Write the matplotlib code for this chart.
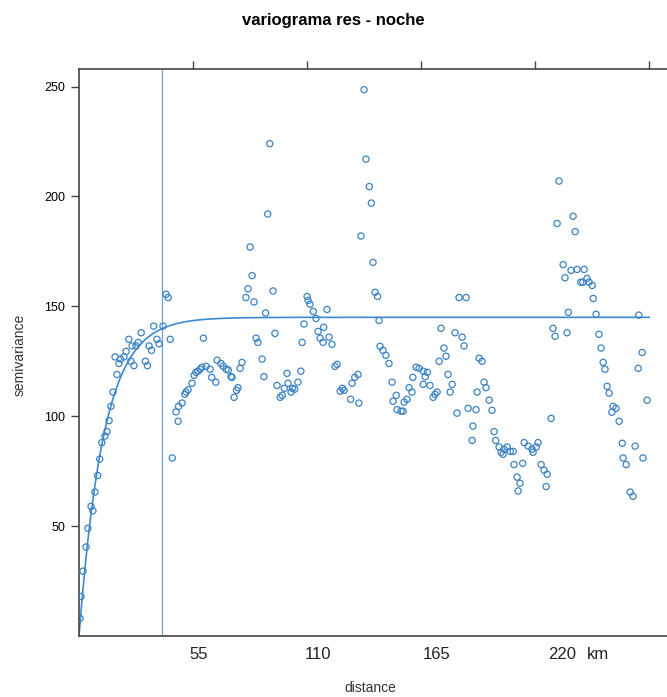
import numpy as np
import matplotlib
matplotlib.use('Agg')
import matplotlib.pyplot as plt

plt.rcParams['font.family'] = ['Liberation Sans', 'DejaVu Sans']

# semivariograma empirico (distancia en km, semivarianza)
dist = [0.5, 1, 1.9, 3.4, 4.3, 5.8, 6.7, 7.7, 9, 10, 11, 12.5, 13.5, 14.5, 15.4,
        16.4, 17.4, 18.3, 19.3, 20, 21.7, 22.7, 24, 25, 25.6, 26.5, 27.5, 28.5, 30,
        32, 33, 33.8, 35, 36, 37.6, 38.6, 40.5, 42, 43, 44, 45,
        46.8, 47.8, 48, 49.7, 51, 51.6, 52.6, 54.5, 55.5, 56.4, 57.4, 58.4, 59.3, 60,
        61.3, 63.2, 64, 66, 66.6, 68.5, 69.5, 71, 72, 73.3, 73.8, 74.8, 76, 76.7,
        77.7, 78.6, 80.5, 81.5, 82.5, 83.5, 84.4, 85.4, 86.3, 88.3, 89.2, 90, 91, 92,
        93.6, 94.5, 95.5, 97, 98, 99, 100.3, 100.8, 102.3, 103, 104, 105.6, 107,
        107.6, 108.5, 110, 110.5, 111.4, 113, 114.3, 115.3, 116.3, 117.7, 118, 119.6,
        120.6, 122, 123.5, 124.5, 126, 127, 127.8, 131, 131.7, 133, 134.6, 135, 136,
        137.5, 138.4, 140, 141, 141.8, 142.8, 144, 144.7, 145.2, 146.6, 148, 149.5,
        151, 151.5, 153, 153.4, 155.3, 156.3, 156.8, 158.2, 159.2, 160.6, 161, 162.6,
        164, 166, 166, 167, 168, 169.3, 170.8, 171.7, 172.7, 173.7, 174.6, 176, 177,
        178, 179, 180, 181.4, 182.3, 183.3, 184.8, 185.7, 186.7, 187.7, 189.6, 190,
        191.5, 192, 193, 194.4, 195.4, 196.3, 197.8, 199.2, 200.2, 201, 202.6, 203.6,
        204.5, 205, 206.5, 208, 209.4, 209.8, 211.3, 211.8, 212.7, 214, 214.7, 216.6,
        218.5, 219, 220.5, 221.4, 222.9, 224.3, 225.3, 225.8, 227.7, 228.6, 229.6,
        230.6, 231.5, 233.5, 234.4, 235.4, 236, 237.3, 238.3, 239.3, 240.2, 242, 243,
        243.6, 245, 246, 247.5, 248, 249.4, 250.8, 251.8, 252.8, 253.7, 254.7, 255.7,
        257, 257.6, 259, 260.5, 262, 262.4, 263.9, 265.8, 267.2, 268.2, 269.7, 270,
        271.6, 272, 274]
gamma = [8, 18, 29.5, 40.5, 49, 59, 57, 65.5, 73, 80.5, 88, 91, 93, 98, 104.5,
         111, 127, 119, 124, 126, 127, 129.5, 135, 125, 132, 123, 132, 133.6, 138,
         125, 123, 132, 130, 141, 135, 133, 141, 155.5, 154, 135, 81,
         102, 97.7, 104.5, 106, 110, 111, 112, 115, 118.6, 120, 120.5, 121.4, 122.3, 135.5,
         122.7, 121.4, 117.7, 115.5, 125.5, 124, 122.7, 121.4, 121, 118, 117.7, 108.6, 111.8, 113,
         121.8, 124.5, 154, 158, 177, 164, 152, 135.5, 133.6, 126, 118, 147, 192, 224,
         157, 137.7, 114, 108.6, 109.5, 112.7, 119.5, 115, 111, 112.7, 112.3, 115.5, 120.5,
         133.6, 142, 154.5, 152.7, 151, 147.7, 144.5, 138.6, 135.5, 133.6, 140.5, 148.6,
         136, 132.7, 122.7, 123.6, 111.4, 112.7, 111.8, 107.7, 115, 117.7, 119, 106, 182,
         248.6, 217, 204.5, 197, 170, 156.4, 154.5, 143.6, 131.8, 130, 127.7, 124,
         115.5, 106.8, 109.5, 103, 102.3, 102.3, 106.4, 107.7, 113, 111, 117.7, 122.3,
         121.8, 120.5, 114.5, 118, 120, 114, 108.6, 110, 111, 125, 140, 131, 127.3,
         119, 111, 114.5, 138, 101.4, 154, 136, 132, 154, 103.6, 89, 95.5,
         103, 111, 126.4, 125, 115.5, 113, 107.3, 102.7, 93, 89, 86, 83.6,
         82.7, 85, 86, 84, 84, 78, 72.3, 66, 69.5, 78.6, 88, 86.4,
         85, 83.6, 86, 88, 78, 75.5, 68, 73.6, 99, 140, 136.4,
         187.7, 207, 169, 163, 138, 147.3, 166.4, 191, 184, 166.8, 161, 161,
         166.8, 162.7, 161, 159.5, 153.6, 146.4, 137.3, 131, 124.5, 121.4, 113.6, 110.5,
         101.8, 104.5, 103.6, 97.7, 87.7, 81, 78, 65.5, 63.6, 86.4, 121.8, 146,
         129, 81, 107.3]

# modelo exponencial ajustado
sill = 145
rango = 12
d_max = 275
corte = 40  # linea vertical de referencia

top_ticks = [55, 110, 165, 220, 275]
y_ticks = [50, 100, 150, 200, 250]

W, H = 667, 697
fig = plt.figure(figsize=(W / 100, H / 100), dpi=100)
x0, x1, y0, y1 = 79, 672, 69, 636
ax = fig.add_axes([x0 / W, 1 - y1 / H, (x1 - x0) / W, (y1 - y0) / H])

col = '#3a83c6'
ax.scatter(dist, gamma, s=20, marker='o', facecolors='none', edgecolors=col,
           linewidths=0.9, zorder=3)
dd = np.linspace(0, d_max, 400)
ax.plot(dd, sill * (1 - np.exp(-dd / rango)), color='#3d8ad0', lw=1.2, zorder=2)
ax.axvline(corte, color='#6f9fd8', lw=0.9, zorder=1)

ax.set_xlim(0, 286)
ax.set_ylim(0, 258)

for side in ['left', 'top', 'bottom']:
    ax.spines[side].set_color('#444444')
    ax.spines[side].set_linewidth(1.2)
ax.spines['right'].set_visible(False)

ax.set_yticks(y_ticks)
ax.set_yticklabels([str(v) for v in y_ticks], fontsize=9)
ax.tick_params(axis='y', direction='out', length=6, width=1, color='#444444', pad=4)

ax.xaxis.set_ticks_position('top')
ax.set_xticks(top_ticks)
ax.set_xticklabels([])
ax.tick_params(axis='x', direction='out', length=6, width=1, color='#444444')

# etiquetas de distancia debajo del eje
xt = ax.get_xaxis_transform()
for x, lab in [(57.9, '55'), (115.3, '110'), (172.7, '165'), (233, '220')]:
    ax.text(x, -0.033, lab, transform=xt, ha='center', va='center', fontsize=12,
            color='#222222')
ax.text(250.4, -0.033, 'km', transform=xt, ha='center', va='center', fontsize=12,
        color='#222222')

fig.text(0.5, 1 - 20 / H, 'variograma res - noche', ha='center', va='center',
         fontsize=12, fontweight='bold')
fig.text(370 / W, 1 - 688 / H, 'distance', ha='center', va='center', fontsize=10,
         color='#333333')
fig.text(20 / W, 1 - 355 / H, 'semivariance', ha='center', va='center', fontsize=10,
         rotation=90, color='#333333')

fig.savefig('out.png', dpi=100)
